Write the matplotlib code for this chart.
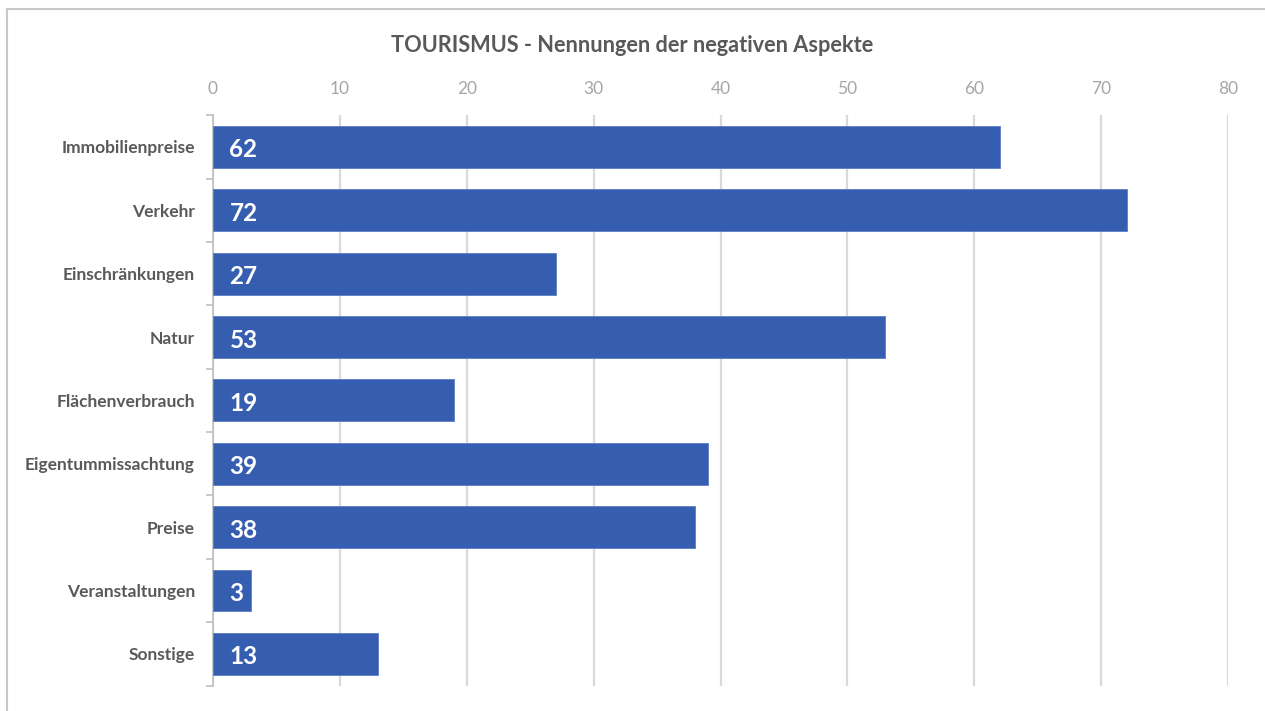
import matplotlib
matplotlib.use("Agg")
import matplotlib.pyplot as plt
from matplotlib.lines import Line2D
from matplotlib.transforms import offset_copy

categories = ["Immobilienpreise", "Verkehr", "Einschränkungen", "Natur",
              "Flächenverbrauch", "Eigentummissachtung", "Preise",
              "Veranstaltungen", "Sonstige"]
values = [62, 72, 27, 53, 19, 39, 38, 3, 13]
xticks = [0, 10, 20, 30, 40, 50, 60, 70, 80]
title = "TOURISMUS - Nennungen der negativen Aspekte"

plt.rcParams['font.family'] = ['Lato', 'DejaVu Sans']

W, H = 1265, 711
fig = plt.figure(figsize=(W/100, H/100), dpi=100)
ax = fig.add_axes([213/W, 1-685.5/H, (1228-213)/W, (685.5-115.3)/H])

ypos = list(range(len(categories)))
ax.barh(ypos, values, height=0.66, color="#365EB0", edgecolor="#5B7EC6", linewidth=0.6, zorder=3)
ax.set_ylim(len(categories)-0.5, -0.5)
ax.set_xlim(0, 80)
ax.set_xticks(xticks)
ax.xaxis.tick_top()
ax.tick_params(axis='x', length=0, pad=13, labelsize=12.5, labelcolor="#A6A6A6")
ax.grid(axis='x', color="#D9D9D9", linewidth=1.6, zorder=0)
ax.set_axisbelow(True)

ax.set_yticks(ypos)
ax.set_yticklabels(categories, fontsize=12.5, fontweight='bold', color="#595959")
ax.tick_params(axis='y', length=0, pad=13)
ax.set_yticks([i - 0.5 for i in range(len(categories)+1)], minor=True)
ax.tick_params(axis='y', which='minor', length=5, color="#BFBFBF", width=1.2)

for s in ['top', 'right', 'bottom']:
    ax.spines[s].set_visible(False)
ax.spines['left'].set_color("#BFBFBF")
ax.spines['left'].set_linewidth(1.2)

trans = offset_copy(ax.transData, fig=fig, x=0, y=-3, units='dots')
for y, v in zip(ypos, values):
    ax.text(1.3, y, str(v), va='center', ha='left', color='white',
            fontsize=17.5, fontweight='bold', zorder=4, transform=trans)

fig.text(0.5, 1-46/H, title, ha='center', va='center',
         fontsize=15.7, fontweight='bold', color="#595959")

fig.add_artist(Line2D([7/W, 7/W], [0, 1-9/H], transform=fig.transFigure, color="#C8C8C8", linewidth=1.5))
fig.add_artist(Line2D([7/W, 1], [1-9/H, 1-9/H], transform=fig.transFigure, color="#C8C8C8", linewidth=1.5))

fig.savefig("out.png", dpi=100)
